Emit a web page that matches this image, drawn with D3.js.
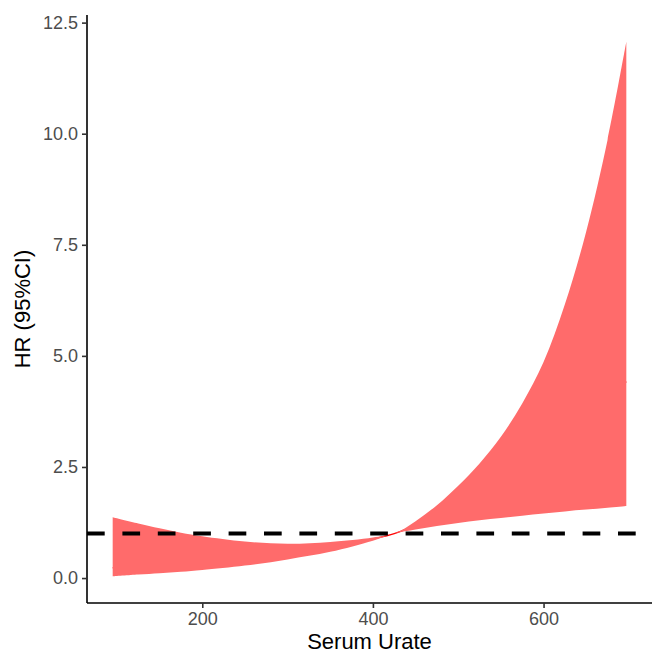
<!DOCTYPE html>
<html>
  <head>
    <meta charset="utf-8">
    <title>HR by Serum Urate</title>
    <style>
    body{
      margin: 0;
      background-color: #ffffff;
    }
    svg{
      display: block;
      font-family: "Liberation Sans", Arial, sans-serif;
    }
    </style>
    <script src="https://d3js.org/d3.v7.min.js"></script>
  </head>
  <body>
    <div id="container"></div>
    <script>
    //size of the whole picture
    const width = 652,
          height = 653;

    //values
    var urate = [95, 125, 150, 175, 200, 250, 300, 350, 400, 425, 450, 475, 500, 525, 550, 575, 600, 625, 650, 675, 697];
    var hrLower = [0.04, 0.08, 0.11, 0.14, 0.18, 0.28, 0.42, 0.59, 0.84, 1.0, 1.09, 1.17, 1.24, 1.30, 1.35, 1.40, 1.45, 1.50, 1.54, 1.58, 1.62];
    var hrUpper = [1.37, 1.23, 1.12, 1.02, 0.94, 0.82, 0.77, 0.81, 0.91, 1.0, 1.28, 1.64, 2.08, 2.58, 3.18, 3.93, 4.86, 6.16, 7.80, 9.86, 12.07];
    var hr = [0.23, 0.32, 0.35, 0.37, 0.41, 0.48, 0.57, 0.69, 0.88, 1.0, 1.19, 1.39, 1.61, 1.84, 2.08, 2.35, 2.67, 3.06, 3.47, 3.95, 4.42];
    var xTicks = [200, 400, 600];
    var yTicks = [0, 2.5, 5, 7.5, 10, 12.5];
    var refLine = 1;

    //panel edges (window.top is taken, so prefix them)
    var panelLeft = 87, panelRight = 652, panelTop = 15, panelBottom = 603;

    //ggplot-style 5% padding round the data
    function padded(lo, hi){
      var pad = (hi - lo) * 0.05;
      return [lo - pad, hi + pad];
    }

    var x = d3.scaleLinear()
      .domain(padded(d3.min(urate), d3.max(urate)))
      .range([panelLeft, panelRight]);
    var y = d3.scaleLinear()
      .domain(padded(d3.min(hrLower), d3.max(hrUpper)))
      .range([panelBottom, panelTop]);

    var rows = urate.map(function(u, i){
      return {u: u, lo: hrLower[i], hi: hrUpper[i], hr: hr[i]};
    });

    var svg = d3.select("#container")
      .append("svg")
      .attr("width", width)
      .attr("height", height);

    var smooth = d3.curveCatmullRom.alpha(0.5);

    //central estimate sits under the band
    svg.append("path")
      .datum(rows)
      .attr("fill", "none")
      .attr("stroke", "#ff0000")
      .attr("stroke-width", 1.2)
      .attr("d", d3.line()
        .x(function(d){ return x(d.u); })
        .y(function(d){ return y(d.hr); })
        .curve(smooth));

    //confidence band
    svg.append("path")
      .datum(rows)
      .attr("fill", "#ff6b6b")
      .attr("d", d3.area()
        .x(function(d){ return x(d.u); })
        .y0(function(d){ return y(d.lo); })
        .y1(function(d){ return y(d.hi); })
        .curve(smooth));

    //reference line at HR = 1
    svg.append("line")
      .attr("x1", panelLeft)
      .attr("x2", panelRight)
      .attr("y1", y(refLine))
      .attr("y2", y(refLine))
      .attr("stroke", "#000")
      .attr("stroke-width", 4)
      .attr("stroke-dasharray", "17.7 17.7");

    //axes
    var xAxis = svg.append("g")
      .attr("transform", "translate(0," + panelBottom + ")")
      .call(d3.axisBottom(x).tickValues(xTicks).tickSize(5).tickPadding(4).tickFormat(d3.format("d")));
    var yAxis = svg.append("g")
      .attr("transform", "translate(" + panelLeft + ",0)")
      .call(d3.axisLeft(y).tickValues(yTicks).tickSize(5).tickPadding(4).tickFormat(d3.format(".1f")));

    [xAxis, yAxis].forEach(function(g){
      g.select(".domain").attr("stroke", "#000").attr("stroke-width", 1.6);
      g.selectAll(".tick line").attr("stroke", "#333").attr("stroke-width", 1.6);
      g.selectAll(".tick text")
        .attr("fill", "#4d4d4d")
        .style("font-size", "18px")
        .style("font-family", "'Liberation Sans', Arial, sans-serif");
    });
    //the axis domain only goes as far as the panel, no end caps
    xAxis.select(".domain").attr("d", "M" + panelLeft + ",0H" + panelRight);
    yAxis.select(".domain").attr("d", "M0," + panelBottom + "V" + panelTop);

    //axis titles
    svg.append("text")
      .attr("x", (panelLeft + panelRight) / 2)
      .attr("y", 649)
      .attr("text-anchor", "middle")
      .style("font-size", "22px")
      .text("Serum Urate");
    svg.append("text")
      .attr("transform", "translate(30," + ((panelTop + panelBottom) / 2) + ") rotate(-90)")
      .attr("text-anchor", "middle")
      .style("font-size", "22px")
      .text("HR (95%CI)");
    </script>
  </body>
</html>
